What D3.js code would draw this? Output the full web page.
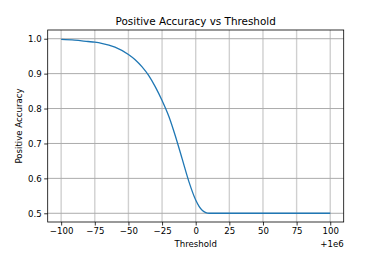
<!DOCTYPE html>
<html>
<head>
<meta charset="utf-8">
<script src="https://cdn.jsdelivr.net/npm/d3@7"></script>
<style>
  body { margin: 0; background: #fff; }
  text { font-family: "DejaVu Sans", sans-serif; fill: #000; }
</style>
</head>
<body>
<div id="chart"></div>
<script>
// threshold offsets (actual threshold = 1e6 + x)
const thresholds = [-100, -90, -80, -75, -70, -60, -50, -45, -40, -35, -30, -25, -20, -15, -10, -5, 0, 2.5, 5, 7.5, 10, 15, 25, 50, 75, 100];
const accuracy   = [0.998, 0.996, 0.992, 0.990, 0.987, 0.976, 0.955, 0.940, 0.920, 0.895, 0.862, 0.823, 0.778, 0.720, 0.655, 0.590, 0.538, 0.520, 0.508, 0.502, 0.500, 0.500, 0.500, 0.500, 0.500, 0.500];
const xTicks = [-100, -75, -50, -25, 0, 25, 50, 75, 100];
const yTicks = [0.5, 0.6, 0.7, 0.8, 0.9, 1.0];

const width = 382, height = 254;
const margin = {left: 47.7, right: 382 - 343.7, top: 30, bottom: 254 - 222};
const fs = "8.6px";

const svg = d3.select("#chart")
    .append("svg")
    .attr("width", width)
    .attr("height", height);

const x = d3.scaleLinear()
    .domain([-110, 110])
    .range([margin.left, width - margin.right]);

const y = d3.scaleLinear()
    .domain([0.475, 1.025])
    .range([height - margin.bottom, margin.top]);

const minus = s => s.replace("-", "\u2212");

// grid
svg.append("g").selectAll("line")
    .data(xTicks)
    .join("line")
    .attr("x1", d => x(d)).attr("x2", d => x(d))
    .attr("y1", margin.top).attr("y2", height - margin.bottom)
    .attr("stroke", "#d0d0d0")
    .attr("stroke-width", 1.4);

svg.append("g").selectAll("line")
    .data(yTicks)
    .join("line")
    .attr("x1", margin.left).attr("x2", width - margin.right)
    .attr("y1", d => y(d)).attr("y2", d => y(d))
    .attr("stroke", "#ababab")
    .attr("stroke-width", 1);

// line
const data = thresholds.map((t, i) => ({t: t, v: accuracy[i]}));
svg.append("path")
    .datum(data)
    .attr("fill", "none")
    .attr("stroke", "#1f77b4")
    .attr("stroke-width", 1.3)
    .attr("d", d3.line().x(d => x(d.t)).y(d => y(d.v)).curve(d3.curveMonotoneX));

// axes
const xAxis = svg.append("g")
    .attr("transform", `translate(0,${height - margin.bottom})`)
    .call(d3.axisBottom(x).tickValues(xTicks).tickSize(3.5).tickPadding(2.5).tickFormat(d => minus(String(d))));

const yAxis = svg.append("g")
    .attr("transform", `translate(${margin.left},0)`)
    .call(d3.axisLeft(y).tickValues(yTicks).tickSize(3.5).tickPadding(2.5).tickFormat(d3.format(".1f")));

[xAxis, yAxis].forEach(g => {
    g.select(".domain").remove();
    g.selectAll(".tick line").attr("stroke", "#000").attr("stroke-width", 0.8);
    g.selectAll(".tick text").style("font-size", fs).style("font-family", "DejaVu Sans").attr("fill", "#000");
});

// frame
svg.append("rect")
    .attr("x", margin.left).attr("y", margin.top)
    .attr("width", width - margin.left - margin.right)
    .attr("height", height - margin.top - margin.bottom)
    .attr("fill", "none")
    .attr("stroke", "#000")
    .attr("stroke-width", 0.8);

// labels
svg.append("text")
    .attr("x", (margin.left + width - margin.right) / 2)
    .attr("y", 25)
    .attr("text-anchor", "middle")
    .style("font-size", "10.4px")
    .text("Positive Accuracy vs Threshold");

svg.append("text")
    .attr("x", (margin.left + width - margin.right) / 2)
    .attr("y", 246.5)
    .attr("text-anchor", "middle")
    .style("font-size", fs)
    .text("Threshold");

svg.append("text")
    .attr("x", width - margin.right)
    .attr("y", 246.5)
    .attr("text-anchor", "end")
    .style("font-size", fs)
    .text("+1e6");

svg.append("text")
    .attr("transform", `translate(22,${(margin.top + height - margin.bottom) / 2}) rotate(-90)`)
    .attr("text-anchor", "middle")
    .style("font-size", fs)
    .text("Positive Accuracy");
</script>
</body>
</html>
